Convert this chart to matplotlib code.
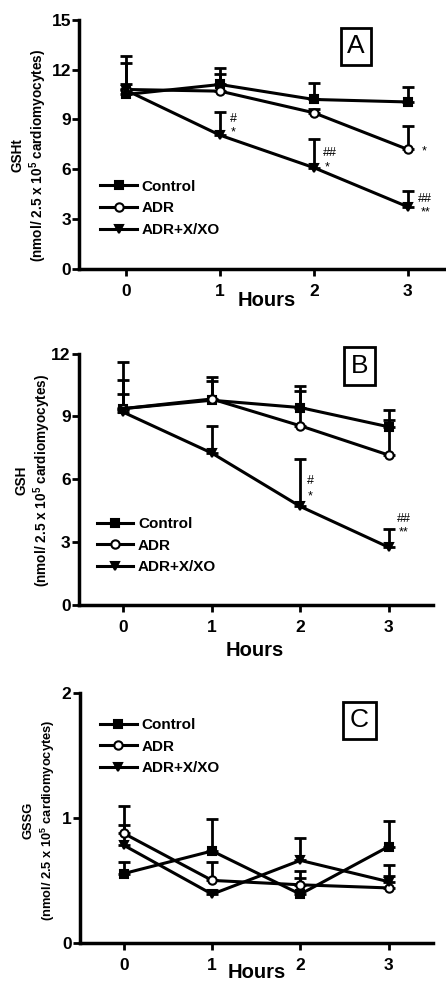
import numpy as np
import matplotlib
matplotlib.use("Agg")
import matplotlib.pyplot as plt

plt.rcParams['font.family'] = ['Liberation Sans', 'DejaVu Sans']
plt.rcParams['mathtext.fontset'] = 'custom'
plt.rcParams['mathtext.bf'] = 'Liberation Sans:bold'

hours = [0, 1, 2, 3]
series_names = ["Control", "ADR", "ADR+X/XO"]

# panel A - GSHt
gsht_control = [10.5, 11.1, 10.2, 10.05]
gsht_control_top = [12.4, 12.1, 11.2, 10.95]
gsht_adr = [10.8, 10.7, 9.4, 7.2]
gsht_adr_top = [12.8, 11.75, 9.6, 8.6]
gsht_xxo = [10.75, 8.05, 6.1, 3.75]
gsht_xxo_top = [11.15, 9.45, 7.8, 4.67]

# panel B - GSH
gsh_control = [9.37, 9.77, 9.42, 8.5]
gsh_control_top = [10.73, 10.9, 10.44, 9.29]
gsh_adr = [9.37, 9.83, 8.55, 7.15]
gsh_adr_top = [11.6, 10.68, 10.2, 8.84]
gsh_xxo = [9.2, 7.25, 4.7, 2.75]
gsh_xxo_top = [10.09, 8.53, 6.96, 3.62]

# panel C - GSSG
gssg_control = [0.555, 0.735, 0.39, 0.77]
gssg_control_top = [0.65, 0.99, 0.52, 0.976]
gssg_adr = [0.875, 0.50, 0.465, 0.44]
gssg_adr_top = [1.096, 0.65, 0.576, 0.536]
gssg_xxo = [0.78, 0.39, 0.66, 0.49]
gssg_xxo_top = [0.944, 0.42, 0.84, 0.624]

# significance marks: (x, y, text)
marks_a = [(1.14, 9.0, "#"), (1.14, 8.2, "*"), (2.17, 7.0, "##"), (2.14, 6.1, "*"),
           (3.18, 7.1, "*"), (3.19, 4.2, "##"), (3.19, 3.4, "**")]
marks_b = [(2.11, 5.9, "#"), (2.11, 5.2, "*"), (3.17, 4.08, "##"), (3.17, 3.45, "**")]

markers = ["s", "o", "v"]
mfaces = ["black", "white", "black"]

fig = plt.figure(figsize=(4.46, 9.82), dpi=100)


def draw_panel(rect, values, tops, ylim, yticks, letter, letter_xy, ylab1, ylab_y,
               legend_anchor, hours_xy, marks, xlim=(-0.5, 3.5), ylab_fs=9.8, ylab_x=(0.040, 0.080)):
    ax = fig.add_axes(rect)
    for i, (vals, top) in enumerate(zip(values, tops)):
        vals = np.array(vals)
        up = np.array(top) - vals
        ax.errorbar(hours, vals, yerr=[np.zeros(4), up], fmt='none', ecolor='black',
                    elinewidth=2, capsize=4.5, capthick=2, zorder=2)
        ax.plot(hours, vals, color='black', lw=2.2, marker=markers[i], markersize=6,
                markerfacecolor=mfaces[i], markeredgecolor='black', markeredgewidth=1.5,
                label=series_names[i], zorder=3)
    ax.set_xlim(*xlim)
    ax.set_ylim(*ylim)
    ax.set_xticks(hours)
    ax.set_yticks(yticks)
    for s in ['top', 'right']:
        ax.spines[s].set_visible(False)
    for s in ['left', 'bottom']:
        ax.spines[s].set_linewidth(2.5)
    ax.tick_params(axis='both', width=2, length=5, labelsize=12.5)
    ax.tick_params(axis='x', pad=6)
    ax.tick_params(axis='y', pad=1)
    for lab in ax.get_xticklabels() + ax.get_yticklabels():
        lab.set_fontweight('bold')
    ax.text(letter_xy[0], letter_xy[1], letter, fontsize=19, ha='center', va='center',
            bbox=dict(boxstyle='square,pad=0.25', fc='white', ec='black', lw=2))
    ax.legend(loc='upper left', bbox_to_anchor=legend_anchor, frameon=False,
              prop={'weight': 'bold', 'size': 11}, handlelength=2.4,
              handletextpad=0.3, labelspacing=0.5, borderpad=0, borderaxespad=0)
    for mx, my, mt in marks:
        ax.text(mx, my, mt, fontsize=9, ha='center', va='center')
    fig.text(ylab_x[0], ylab_y, ylab1, rotation=90, ha='center', va='center',
             fontsize=ylab_fs, fontweight='bold')
    fig.text(ylab_x[1], ylab_y, r"(nmol/ 2.5 x 10$^{\mathbf{5}}$ cardiomyocytes)", rotation=90,
             ha='center', va='center', fontsize=ylab_fs, fontweight='bold')
    fig.text(hours_xy[0], hours_xy[1], "Hours", fontsize=14.5, fontweight='bold',
             ha='center', va='center')
    return ax


draw_panel([0.178, 0.726, 0.841, 0.254],
           [gsht_control, gsht_adr, gsht_xxo], [gsht_control_top, gsht_adr_top, gsht_xxo_top],
           (0, 15), [0, 3, 6, 9, 12, 15], "A", (2.45, 13.4), "GSHt", 1 - 155 / 982,
           (0.056, 0.358), (267 / 446, 1 - 301 / 982), marks_a,
           ylab_x=(18 / 446, 38 / 446))

draw_panel([0.177, 0.384, 0.794, 0.256],
           [gsh_control, gsh_adr, gsh_xxo], [gsh_control_top, gsh_adr_top, gsh_xxo_top],
           (0, 12), [0, 3, 6, 9, 12], "B", (2.67, 11.4), "GSH", 1 - 480 / 982,
           (0.05, 0.349), (255 / 446, 1 - 650 / 982), marks_b,
           ylab_x=(21 / 446, 42 / 446))

draw_panel([0.179, 0.0397, 0.791, 0.255],
           [gssg_control, gssg_adr, gssg_xxo], [gssg_control_top, gssg_adr_top, gssg_xxo_top],
           (0, 2), [0, 1, 2], "C", (2.67, 1.78), "GSSG", 1 - 820 / 982,
           (0.057, 0.898), (257 / 446, 1 - 973 / 982), [],
           ylab_fs=9.3, ylab_x=(29 / 446, 48 / 446))

fig.savefig("out.png", dpi=100)
